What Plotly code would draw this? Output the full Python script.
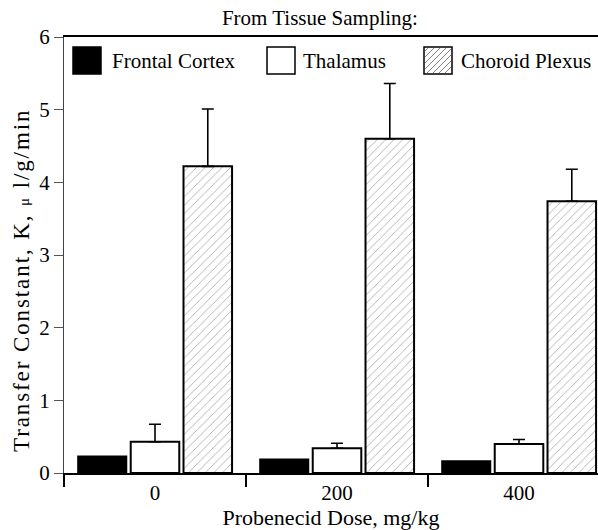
import plotly.graph_objects as go

doses = ["0", "200", "400"]
frontal = [0.23, 0.19, 0.165]
thalamus = [0.43, 0.34, 0.40]
thalamus_err = [0.24, 0.07, 0.06]
choroid = [4.22, 4.60, 3.74]
choroid_err = [0.79, 0.76, 0.44]
series_names = ["Frontal Cortex", "Thalamus", "Choroid Plexus"]

FONT = "Liberation Serif, Times New Roman, serif"

# plot-area geometry in pixels (for converting legend layout positions)
W, H = 598, 530
ML, MR, MT, MB = 64, 0, 37, 57
PW, PH = W - ML - MR, H - MT - MB


def px(xp):
    return (xp - ML) / PW


def py(yp):
    return (H - MB - yp) / PH


fig = go.Figure()

fig.add_trace(go.Bar(
    name=series_names[0], x=doses, y=frontal,
    marker=dict(color="black", line=dict(color="black", width=1.5)),
))
fig.add_trace(go.Bar(
    name=series_names[1], x=doses, y=thalamus,
    marker=dict(color="white", line=dict(color="black", width=2)),
    error_y=dict(type="data", symmetric=False, array=thalamus_err,
                 arrayminus=[0, 0, 0], color="black", thickness=1.6, width=6),
))
fig.add_trace(go.Bar(
    name=series_names[2], x=doses, y=choroid,
    marker=dict(color="white", line=dict(color="black", width=2),
                pattern=dict(shape="/", fgcolor="#555555", bgcolor="white",
                             size=6, solidity=0.14)),
    error_y=dict(type="data", symmetric=False, array=choroid_err,
                 arrayminus=[0, 0, 0], color="black", thickness=1.6, width=6),
))

# ---- custom legend (large swatches like the original) ----
sw_x = [73, 267, 424]
txt_x = [110, 301, 459]
sw_top, sw_bot, sw_w = 47, 74, 28
shapes = []
annotations = []
fills = ["black", "white", "white"]
for i, name in enumerate(series_names):
    x0, x1 = sw_x[i], sw_x[i] + sw_w
    shapes.append(dict(type="rect", xref="paper", yref="paper",
                       x0=px(x0), x1=px(x1), y0=py(sw_bot), y1=py(sw_top),
                       fillcolor=fills[i], line=dict(color="black", width=1.5),
                       layer="above"))
    annotations.append(dict(text=name, xref="paper", yref="paper",
                            x=px(txt_x[i]), y=py(61), xanchor="left",
                            yanchor="middle", showarrow=False,
                            font=dict(family=FONT, size=21, color="black")))
# hatch lines for the third swatch
x0, x1 = sw_x[2] + 1, sw_x[2] + sw_w - 1
y0, y1 = sw_top + 1, sw_bot - 1
c = x0 + y0 + 3
while c < x1 + y1:
    xa = max(x0, c - y1)
    xb = min(x1, c - y0)
    if xa < xb:
        shapes.append(dict(type="line", xref="paper", yref="paper",
                           x0=px(xa), y0=py(c - xa), x1=px(xb), y1=py(c - xb),
                           line=dict(color="#666666", width=0.8), layer="above"))
    c += 6

# y-axis title placed as annotation (the original sits slightly below centre)
annotations.append(dict(
    text=("<span style='letter-spacing:1.9px'>Transfer Constant, K, "
          "<span style='font-size:15px'>μ</span> l/g/min</span>"),
    xref="paper", yref="paper", x=px(21), y=py(281),
    xanchor="center", yanchor="middle", textangle=-90, showarrow=False,
    font=dict(family=FONT, size=23, color="black")))

fig.update_layout(
    width=W, height=H,
    margin=dict(l=ML, r=MR, t=MT, b=MB),
    paper_bgcolor="white", plot_bgcolor="white",
    barmode="group", bargap=0.13, bargroupgap=0.08,
    font=dict(family=FONT, color="black", size=21),
    title=dict(text="From Tissue Sampling:", x=0.535, xanchor="center",
               y=1 - 18 / H, yanchor="middle",
               font=dict(family=FONT, size=21)),
    showlegend=False,
    shapes=shapes,
    annotations=annotations,
    xaxis=dict(
        type="category", range=[-0.5, 2.434],
        showline=True, linecolor="black", linewidth=1.5, mirror=True,
        ticks="outside", tickson="boundaries", ticklen=12, tickwidth=1.5,
        tickcolor="black", showgrid=False, zeroline=False,
        tickfont=dict(family=FONT, size=21),
        title=dict(text="Probenecid Dose, mg/kg",
                   font=dict(family=FONT, size=22), standoff=0),
    ),
    yaxis=dict(
        range=[0, 6], dtick=1, tick0=0,
        showline=True, linecolor="#444444", linewidth=1.2,
        ticks="outside", ticklen=9, tickwidth=1.2, tickcolor="#555555",
        showgrid=False, zeroline=False,
        tickfont=dict(family=FONT, size=21),
    ),
)

fig.write_html("out.html")
